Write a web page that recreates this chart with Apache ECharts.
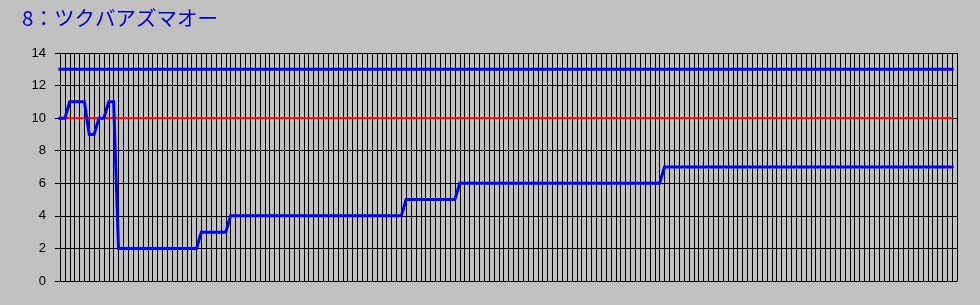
<!DOCTYPE html>
<html>
<head>
<meta charset="utf-8">
<script src="https://cdn.jsdelivr.net/npm/echarts@6/dist/echarts.min.js"></script>
<style>
html,body{margin:0;padding:0;background:#c0c0c0;}
#chart{width:980px;height:305px;}
</style>
</head>
<body>
<div id="chart"></div>
<script>
const titleText = '8：ツクバアズマオー';
const yTicks = [0, 2, 4, 6, 8, 10, 12, 14];
const upperLevel = 13;
const baseLevel = 10;
const lastIndex = 183;
const rankValues = [
  10, 10, 11, 11, 11, 11, 9, 9, 10, 10, 11, 11,
  2, 2, 2, 2, 2, 2, 2, 2, 2, 2, 2, 2, 2, 2, 2, 2, 2,
  3, 3, 3, 3, 3, 3,
  4, 4, 4, 4, 4, 4, 4, 4, 4, 4, 4, 4, 4, 4, 4, 4, 4, 4,
  4, 4, 4, 4, 4, 4, 4, 4, 4, 4, 4, 4, 4, 4, 4, 4, 4, 4,
  5, 5, 5, 5, 5, 5, 5, 5, 5, 5, 5,
  6, 6, 6, 6, 6, 6, 6, 6, 6, 6, 6, 6, 6, 6, 6, 6, 6, 6, 6, 6, 6,
  6, 6, 6, 6, 6, 6, 6, 6, 6, 6, 6, 6, 6, 6, 6, 6, 6, 6, 6, 6, 6,
  7, 7, 7, 7, 7, 7, 7, 7, 7, 7, 7, 7, 7, 7, 7, 7, 7, 7, 7, 7,
  7, 7, 7, 7, 7, 7, 7, 7, 7, 7, 7, 7, 7, 7, 7, 7, 7, 7, 7, 7,
  7, 7, 7, 7, 7, 7, 7, 7, 7, 7, 7, 7, 7, 7, 7, 7, 7, 7, 7, 7
];

const chart = echarts.init(document.getElementById('chart'), null, {renderer: 'canvas'});
const rankData = rankValues.map((v, i) => [i, v]);

chart.setOption({
  animation: false,
  backgroundColor: '#c0c0c0',
  title: {
    text: titleText,
    left: 17,
    top: 3,
    textStyle: {
      fontFamily: '"Noto Sans CJK JP", sans-serif',
      fontSize: 20.5,
      fontWeight: 'normal',
      color: '#0000cc'
    }
  },
  grid: {left: 60, top: 53, right: 23, bottom: 24, containLabel: false},
  xAxis: {
    type: 'value',
    min: 0,
    max: 184,
    interval: 1,
    axisLine: {show: true, lineStyle: {color: '#000', width: 1}},
    axisTick: {show: false},
    axisLabel: {show: false},
    splitLine: {show: true, lineStyle: {color: '#000', width: 1}}
  },
  yAxis: {
    type: 'value',
    min: yTicks[0],
    max: yTicks[yTicks.length - 1],
    interval: 2,
    axisLine: {show: true, lineStyle: {color: '#000', width: 1}},
    axisTick: {show: true, length: 5, inside: false, lineStyle: {color: '#000'}},
    axisLabel: {
      margin: 14,
      color: '#000',
      fontFamily: '"Liberation Sans", Arial, sans-serif',
      fontSize: 13
    },
    splitLine: {show: true, lineStyle: {color: '#000', width: 1}}
  },
  series: [
    {
      type: 'line',
      data: [[0, baseLevel], [lastIndex, baseLevel]],
      showSymbol: false,
      silent: true,
      lineStyle: {color: '#ff0000', width: 2, cap: 'square'}
    },
    {
      type: 'line',
      data: [[0, upperLevel], [lastIndex, upperLevel]],
      showSymbol: false,
      silent: true,
      lineStyle: {color: '#0000ff', width: 3, cap: 'square'}
    },
    {
      type: 'line',
      data: rankData,
      showSymbol: false,
      silent: true,
      lineStyle: {color: '#0000ff', width: 3, cap: 'square', join: 'miter'}
    }
  ]
});
</script>
</body>
</html>
